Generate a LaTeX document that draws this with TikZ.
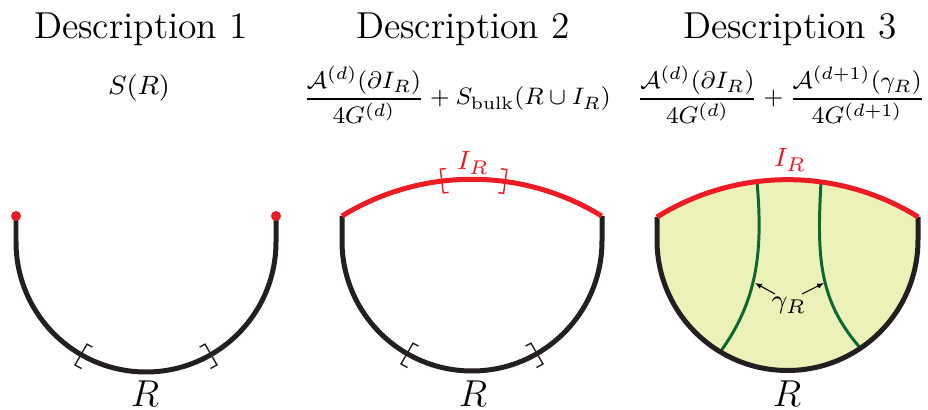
\documentclass[tikz,border=0pt]{standalone}
\usetikzlibrary{calc,arrows.meta}
\definecolor{myred}{RGB}{237,28,36}
\definecolor{myfill}{RGB}{236,241,183}
\definecolor{mygreen}{RGB}{10,105,50}
\definecolor{myblack}{RGB}{35,31,32}
\newcommand\arcbrk[5]{%
  \draw[brk,#5] ($(#1)+({#3+#4}:{#2+12})$) -- ($(#1)+(#3:{#2+12})$)
    -- ($(#1)+(#3:{#2-12})$) -- ($(#1)+({#3+#4}:{#2-12})$);}
\tikzset{
  blk/.style={line width=1.6pt, draw=myblack},
  redarc/.style={line width=1.6pt, draw=myred},
  brk/.style={line width=0.45pt, draw=myblack},
  grn/.style={line width=0.95pt, draw=mygreen},
  arr/.style={line width=0.35pt, -{Latex[length=2.2pt,width=1.8pt]}},
  title/.style={font=\large, anchor=base, inner sep=0pt},
  formula/.style={font=\footnotesize, scale=0.955, anchor=base, inner sep=0pt},
  sformula/.style={font=\footnotesize, scale=1.06, anchor=base, inner sep=0pt},
  lbl/.style={font=\footnotesize, scale=1.06, anchor=base, inner sep=0pt},
  rlbl/.style={font=\large, anchor=base, inner sep=0pt},
}
\begin{document}
\begin{tikzpicture}[x=0.32pt,y=-0.32pt]
\useasboundingbox (0,0) rectangle (928,410);
% titles
\node[title] (t1) at (141,39) {Description 1};
\node[title] (t2) at (463,39) {Description 2};
\node[title] (t3) at (790,39) {Description 3};
% formulas
\node[sformula] (f1) at (139,95) {$S(R)$};
\node[formula] (f2) at (457,105) {$\displaystyle \frac{\mathcal{A}^{(d)}(\partial I_R)}{4G^{(d)}} + S_{\mathrm{bulk}}(R\cup I_R)$};
\node[formula] (f3) at (781,105) {$\displaystyle \frac{\mathcal{A}^{(d)}(\partial I_R)}{4G^{(d)}} + \frac{\mathcal{A}^{(d+1)}(\gamma_R)}{4G^{(d+1)}}$};
% ---------- panel 1
\coordinate (c1) at (146,242);
\coordinate (p1l) at (16,216);
\coordinate (p1r) at (276,216);
\draw[blk] (p1l) -- (16,242) arc[start angle=180,end angle=0,radius=130] -- (p1r);
\fill[myred] (p1l) circle[radius=5];
\fill[myred] (p1r) circle[radius=5];
\arcbrk{c1}{130}{120}{-3}{}
\arcbrk{c1}{130}{60}{3}{}
\node[rlbl] (r1) at (145,407) {$R$};
% ---------- panel 2
\coordinate (c2) at (472,241);
\coordinate (c2r) at (472,427);
\coordinate (p2l) at (342,216);
\coordinate (p2r) at (602,216);
\draw[blk] (p2l) -- (342,241) arc[start angle=180,end angle=0,radius=130] -- (p2r);
\draw[redarc] (p2l) arc[start angle=238.4,end angle=301.6,radius=247.8];
\arcbrk{c2}{130}{120}{-3}{}
\arcbrk{c2}{130}{60}{3}{}
\arcbrk{c2r}{247.8}{263}{1.3}{draw=myred}
\arcbrk{c2r}{247.8}{277.7}{-1.3}{draw=myred}
\node[lbl, text=myred] (i2) at (473,170) {$I_R$};
\node[rlbl] (r2) at (473,407) {$R$};
% ---------- panel 3
\coordinate (c3) at (787.5,240);
\coordinate (c3r) at (787.5,427);
\coordinate (p3l) at (657,217);
\coordinate (p3r) at (918,217);
\fill[myfill] (p3l) -- (657,240) arc[start angle=180,end angle=0,radius=130.5] -- (p3r)
  arc[start angle=301.9,end angle=238.1,radius=247.2] -- cycle;
\coordinate (g1t) at (757,181.7);
\coordinate (g1b) at (720.3,351.9);
\coordinate (g2t) at (821,182.1);
\coordinate (g2b) at (860.5,348.2);
\draw[grn] (g1t) .. controls (763,250) and (758,300) .. (g1b);
\draw[grn] (g2t) .. controls (817,255) and (818,300) .. (g2b);
\draw[blk] (p3l) -- (657,240) arc[start angle=180,end angle=0,radius=130.5] -- (p3r);
\draw[redarc] (p3l) arc[start angle=238.1,end angle=301.9,radius=247.2];
\node[lbl, text=myred] (i3) at (790,167) {$I_R$};
\node[lbl] (g) at (789,309) {$\gamma_R$};
\coordinate (a1) at (755,283);
\coordinate (a2) at (824,283);
\draw[arr] (775,294) -- (a1);
\draw[arr] (802,294) -- (a2);
\node[rlbl] (r3) at (787,407) {$R$};
\end{tikzpicture}
\end{document}
